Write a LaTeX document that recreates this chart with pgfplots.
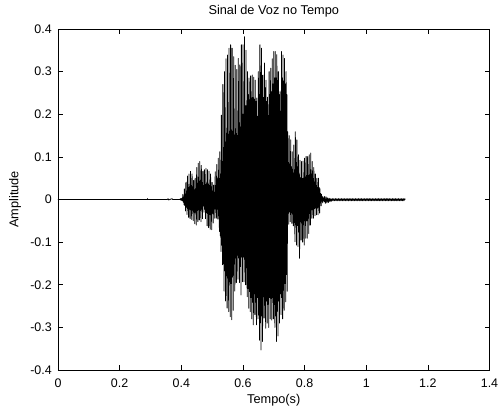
\documentclass[border=0pt]{standalone}
\usepackage{fontspec}
\setmainfont{Liberation Sans}
\usepackage{pgfplots}
\usepackage{pgfplotstable}
\pgfplotsset{compat=1.18}
\pgfplotstableread{
t y
0 0
0.29 0
0.2905 0.002
0.291 0
0.355 0
0.357 0.002
0.359 -0.001
0.37 0.002
0.372 0
0.395 0
0.398 0.002
0.399 -0.002
0.400 0.003
0.40125 -0.002
0.4025 0.002
0.40375 -0.003
0.405 0.012
0.40625 -0.006
0.4075 0.006
0.40875 -0.012
0.41 0.025
0.41125 -0.014
0.4125 0.013
0.41375 -0.027
0.415 0.040
0.41625 -0.018
0.4175 0.020
0.41875 -0.035
0.42 0.055
0.42125 -0.021
0.4225 0.028
0.42375 -0.042
0.425 0.060
0.42625 -0.023
0.4275 0.030
0.42875 -0.045
0.43 0.066
0.43125 -0.024
0.4325 0.033
0.43375 -0.047
0.435 0.060
0.43625 -0.025
0.4375 0.030
0.43875 -0.050
0.44 0.045
0.44125 -0.029
0.4425 0.023
0.44375 -0.057
0.445 0.050
0.44625 -0.030
0.4475 0.025
0.44875 -0.060
0.45 0.075
0.45125 -0.026
0.4525 0.038
0.45375 -0.052
0.455 0.085
0.45625 -0.024
0.4575 0.043
0.45875 -0.048
0.46 0.089
0.46125 -0.026
0.4625 0.045
0.46375 -0.052
0.465 0.080
0.46625 -0.023
0.4675 0.040
0.46875 -0.045
0.47 0.066
0.47125 -0.015
0.4725 0.033
0.47375 -0.030
0.475 0.070
0.47625 -0.023
0.4775 0.035
0.47875 -0.045
0.48 0.073
0.48125 -0.031
0.4825 0.037
0.48375 -0.062
0.485 0.070
0.48625 -0.033
0.4875 0.035
0.48875 -0.066
0.49 0.066
0.49125 -0.035
0.4925 0.033
0.49375 -0.070
0.495 0.060
0.49625 -0.036
0.4975 0.030
0.49875 -0.071
0.5 0.040
0.50125 -0.028
0.5025 0.020
0.50375 -0.055
0.505 0.034
0.50625 -0.022
0.5075 0.017
0.50875 -0.044
0.51 0.065
0.51125 -0.022
0.5125 0.033
0.51375 -0.044
0.515 0.082
0.51625 -0.023
0.5175 0.041
0.51875 -0.046
0.52 0.097
0.52125 -0.038
0.5225 0.049
0.52375 -0.075
0.525 0.112
0.52625 -0.085
0.5275 0.060
0.52875 -0.122
0.53 0.198
0.53125 -0.107
0.5325 0.089
0.53375 -0.153
0.535 0.270
0.53625 -0.151
0.5375 0.122
0.53875 -0.215
0.54 0.300
0.54125 -0.167
0.5425 0.135
0.54375 -0.238
0.545 0.330
0.54625 -0.179
0.5475 0.149
0.54875 -0.255
0.55 0.339
0.55125 -0.184
0.5525 0.153
0.55375 -0.263
0.555 0.355
0.55625 -0.193
0.5575 0.160
0.55875 -0.275
0.56 0.363
0.56125 -0.197
0.5625 0.163
0.56375 -0.282
0.565 0.355
0.56625 -0.182
0.5675 0.160
0.56875 -0.260
0.57 0.335
0.57125 -0.151
0.5725 0.151
0.57375 -0.215
0.575 0.315
0.57625 -0.137
0.5775 0.142
0.57875 -0.195
0.58 0.305
0.58125 -0.131
0.5825 0.150
0.58375 -0.187
0.585 0.331
0.58625 -0.137
0.5875 0.180
0.58875 -0.195
0.59 0.316
0.59125 -0.157
0.5925 0.170
0.59375 -0.224
0.595 0.363
0.59625 -0.135
0.5975 0.200
0.59875 -0.193
0.6 0.363
0.60125 -0.135
0.6025 0.200
0.60375 -0.193
0.605 0.382
0.60625 -0.140
0.6075 0.220
0.60875 -0.200
0.61 0.350
0.61125 -0.160
0.6125 0.220
0.61375 -0.228
0.615 0.300
0.61625 -0.209
0.6175 0.246
0.61875 -0.255
0.62 0.285
0.62125 -0.216
0.6225 0.234
0.62375 -0.263
0.625 0.290
0.62625 -0.230
0.6275 0.238
0.62875 -0.280
0.63 0.292
0.63125 -0.241
0.6325 0.239
0.63375 -0.294
0.635 0.287
0.63625 -0.221
0.6375 0.235
0.63875 -0.270
0.64 0.280
0.64125 -0.241
0.6425 0.230
0.64375 -0.294
0.645 0.238
0.64625 -0.230
0.6475 0.195
0.64875 -0.280
0.65 0.300
0.65125 -0.271
0.6525 0.246
0.65375 -0.330
0.655 0.363
0.65625 -0.289
0.6575 0.298
0.65875 -0.353
0.66 0.355
0.66125 -0.273
0.6625 0.291
0.66375 -0.333
0.665 0.292
0.66625 -0.228
0.6675 0.239
0.66875 -0.278
0.67 0.320
0.67125 -0.248
0.6725 0.262
0.67375 -0.302
0.675 0.280
0.67625 -0.238
0.6775 0.230
0.67875 -0.290
0.68 0.240
0.68125 -0.246
0.6825 0.197
0.68375 -0.300
0.685 0.300
0.68625 -0.230
0.6875 0.246
0.68875 -0.280
0.69 0.308
0.69125 -0.232
0.6925 0.253
0.69375 -0.283
0.695 0.330
0.69625 -0.230
0.6975 0.271
0.69875 -0.280
0.7 0.347
0.70125 -0.246
0.7025 0.285
0.70375 -0.300
0.705 0.347
0.70625 -0.273
0.7075 0.285
0.70875 -0.333
0.71 0.340
0.71125 -0.262
0.7125 0.279
0.71375 -0.320
0.715 0.300
0.71625 -0.238
0.7175 0.246
0.71875 -0.290
0.72 0.253
0.72125 -0.221
0.7225 0.207
0.72375 -0.270
0.725 0.347
0.72625 -0.230
0.7275 0.285
0.72875 -0.280
0.73 0.339
0.73125 -0.213
0.7325 0.278
0.73375 -0.260
0.735 0.331
0.73625 -0.197
0.7375 0.271
0.73875 -0.240
0.74 0.300
0.74125 -0.176
0.7425 0.246
0.74375 -0.215
0.745 0.159
0.74625 -0.032
0.7475 0.087
0.74875 -0.058
0.75 0.150
0.75125 -0.029
0.7525 0.083
0.75375 -0.052
0.755 0.140
0.75625 -0.031
0.7575 0.077
0.75875 -0.056
0.76 0.112
0.76125 -0.034
0.7625 0.062
0.76375 -0.062
0.765 0.128
0.76625 -0.054
0.7675 0.070
0.76875 -0.099
0.77 0.159
0.77125 -0.059
0.7725 0.087
0.77375 -0.107
0.775 0.140
0.77625 -0.061
0.7775 0.077
0.77875 -0.110
0.78 0.105
0.78125 -0.076
0.7825 0.058
0.78375 -0.138
0.785 0.092
0.78625 -0.052
0.7875 0.051
0.78875 -0.095
0.79 0.089
0.79125 -0.055
0.7925 0.049
0.79375 -0.100
0.795 0.090
0.79625 -0.059
0.7975 0.050
0.79875 -0.107
0.8 0.097
0.80125 -0.050
0.8025 0.053
0.80375 -0.091
0.805 0.101
0.80625 -0.050
0.8075 0.056
0.80875 -0.091
0.81 0.101
0.81125 -0.044
0.8125 0.056
0.81375 -0.080
0.815 0.105
0.81625 -0.033
0.8175 0.058
0.81875 -0.060
0.82 0.109
0.82125 -0.024
0.8225 0.060
0.82375 -0.044
0.825 0.089
0.82625 -0.024
0.8275 0.049
0.82875 -0.044
0.83 0.075
0.83125 -0.021
0.8325 0.041
0.83375 -0.038
0.835 0.060
0.83625 -0.020
0.8375 0.033
0.83875 -0.036
0.84 0.050
0.84125 -0.020
0.8425 0.028
0.84375 -0.036
0.845 0.050
0.84625 -0.018
0.8475 0.028
0.84875 -0.032
0.85 0.025
0.85125 -0.008
0.8525 0.014
0.85375 -0.015
0.855 0.012
0.85625 -0.004
0.8575 0.007
0.85875 -0.008
0.86 0.006
0.86125 -0.003
0.8625 0.003
0.86375 -0.005
0.865 0.007
0.8675 -0.009
0.87 0.006
0.8725 -0.008
0.875 0.004
0.8775 -0.007
0.88 0.003
0.8825 -0.005
0.885 0.002
0.8875 -0.004
0.89 0.002
0.8925 -0.003
0.895 0.002
0.8975 -0.003
0.9 0.002
0.9025 -0.003
0.905 0.002
0.9075 -0.003
0.91 0.002
0.9125 -0.003
0.915 0.002
0.9175 -0.003
0.92 0.002
0.9225 -0.003
0.925 0.002
0.9275 -0.003
0.93 0.002
0.9325 -0.003
0.935 0.002
0.9375 -0.003
0.94 0.002
0.9425 -0.003
0.945 0.002
0.9475 -0.003
0.95 0.002
0.9525 -0.003
0.955 0.002
0.9575 -0.003
0.96 0.002
0.9625 -0.003
0.965 0.002
0.9675 -0.003
0.97 0.002
0.9725 -0.003
0.975 0.002
0.9775 -0.003
0.98 0.002
0.9825 -0.003
0.985 0.002
0.9875 -0.003
0.99 0.002
0.9925 -0.003
0.995 0.002
0.9975 -0.003
1.0 0.002
1.0025 -0.003
1.005 0.002
1.0075 -0.003
1.01 0.002
1.0125 -0.003
1.015 0.002
1.0175 -0.003
1.02 0.002
1.0225 -0.003
1.025 0.002
1.0275 -0.003
1.03 0.002
1.0325 -0.003
1.035 0.002
1.0375 -0.003
1.04 0.002
1.0425 -0.003
1.045 0.002
1.0475 -0.003
1.05 0.002
1.0525 -0.003
1.055 0.002
1.0575 -0.003
1.06 0.002
1.0625 -0.003
1.065 0.002
1.0675 -0.003
1.07 0.002
1.0725 -0.003
1.075 0.002
1.0775 -0.003
1.08 0.002
1.0825 -0.003
1.085 0.002
1.0875 -0.003
1.09 0.002
1.0925 -0.003
1.095 0.002
1.0975 -0.003
1.1 0.002
1.1025 -0.003
1.105 0.002
1.1075 -0.003
1.11 0.002
1.1125 -0.003
1.115 0.002
1.1175 -0.003
1.12 0.002
1.1225 -0.003
1.125 0.002
1.127 0
}\signal
\begin{document}
\begin{tikzpicture}
\useasboundingbox (-58bp,-39bp) rectangle (440bp,370bp);
\begin{axis}[
  at={(0,0)}, anchor=south west,
  scale only axis, width=431.5bp, height=341bp,
  xmin=0, xmax=1.4, ymin=-0.4, ymax=0.4,
  xtick={0,0.2,0.4,0.6,0.8,1,1.2,1.4},
  xticklabels={0,0.2,0.4,0.6,0.8,1,1.2,1.4},
  ytick={-0.4,-0.3,-0.2,-0.1,0,0.1,0.2,0.3,0.4},
  yticklabels={-0.4,-0.3,-0.2,-0.1,0,0.1,0.2,0.3,0.4},
  tick align=inside, major tick length=5bp,
  tick style={black, line width=0.6bp},
  axis line style={black, line width=0.8bp},
  xticklabel style={anchor=base, yshift=-17bp, font=\fontsize{12.5}{14}\selectfont},
  yticklabel style={anchor=east, inner sep=0pt, xshift=-6bp, font=\fontsize{12.5}{14}\selectfont},
  title={Sinal de Voz no Tempo},
  title style={at={(axis description cs:0.5,1.0264)}, anchor=base, font=\fontsize{12.8}{15}\selectfont, inner sep=0pt},
  xlabel={Tempo(s)},
  xlabel style={at={(axis description cs:0.5,-0.0968)}, anchor=base, font=\fontsize{12.8}{15}\selectfont, inner sep=0pt},
  ylabel={Amplitude},
  ylabel style={at={(axis description cs:-0.0997,0.5)}, rotate=0, anchor=center, font=\fontsize{12.8}{15}\selectfont, inner sep=0pt},
]
\addplot[black, line width=0.8bp, line join=round, mark=none] table[x=t, y=y] {\signal};
\end{axis}
\end{tikzpicture}
\end{document}
